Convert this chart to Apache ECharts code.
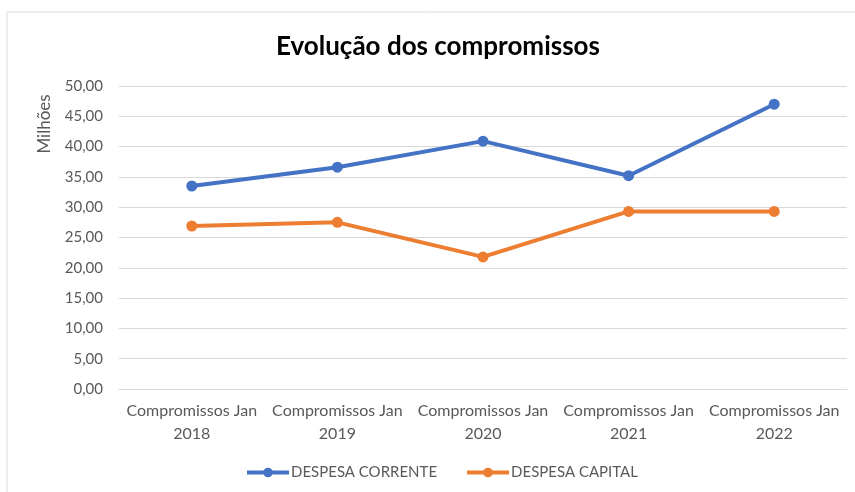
<!DOCTYPE html>
<html lang="pt">
<head>
<meta charset="UTF-8">
<title>Evolução dos compromissos</title>
<script src="https://cdn.jsdelivr.net/npm/echarts@6/dist/echarts.min.js"></script>
<style>
  html, body { margin: 0; padding: 0; background: #fff; }
</style>
</head>
<body>
<div id="main" style="width:855px;height:492px;"></div>
<script type="text/javascript">
// data (milhões)
const categories = [
  'Compromissos Jan\n2018',
  'Compromissos Jan\n2019',
  'Compromissos Jan\n2020',
  'Compromissos Jan\n2021',
  'Compromissos Jan\n2022'
];
const despesaCorrente = [33.5, 36.6, 40.9, 35.2, 47.0];
const despesaCapital = [26.9, 27.5, 21.8, 29.3, 29.3];

const font = 'Lato, "Open Sans", sans-serif';
const textGrey = '#595959';

let myChart = echarts.init(document.getElementById('main'));

let options = {
  backgroundColor: '#fff',
  textStyle: { fontFamily: font },
  title: {
    text: 'Evolução dos compromissos',
    left: 276,
    top: 34,
    padding: 0,
    textStyle: { fontFamily: font, fontSize: 26, fontWeight: 'bold', color: '#000' }
  },
  graphic: [
    {
      type: 'rect',
      shape: { x: 7, y: 12, width: 900, height: 600 },
      style: { fill: 'none', stroke: '#d9d9d9', lineWidth: 1 },
      silent: true
    },
    {
      // axis title "Milhões"
      type: 'text',
      x: 45,
      y: 124,
      rotation: Math.PI / 2,
      style: {
        text: 'Milhões',
        fill: textGrey,
        font: '17px ' + font,
        textAlign: 'center',
        textVerticalAlign: 'middle'
      },
      silent: true
    }
  ],
  legend: {
    bottom: 7,
    left: 240,
    padding: 5,
    itemWidth: 42,
    itemHeight: 12,
    itemGap: 28,
    lineStyle: { width: 4 },
    textStyle: { fontFamily: font, fontSize: 15, color: textGrey, padding: [0, 0, 0, -3] },
    data: ['DESPESA CORRENTE', 'DESPESA CAPITAL']
  },
  grid: { left: 119, right: 8, top: 86, bottom: 103 },
  xAxis: {
    type: 'category',
    data: categories,
    boundaryGap: true,
    axisLine: { lineStyle: { color: '#d9d9d9' } },
    axisTick: { show: false },
    axisLabel: { color: textGrey, fontSize: 16, lineHeight: 23, margin: 10, interval: 0 }
  },
  yAxis: {
    type: 'value',
    min: 0,
    max: 50,
    interval: 5,
    axisLine: { show: false },
    axisTick: { show: false },
    axisLabel: {
      color: textGrey,
      fontSize: 15,
      margin: 16,
      formatter: v => v.toFixed(2).replace('.', ',')
    },
    splitLine: { lineStyle: { color: '#d9d9d9', width: 1 } }
  },
  series: [
    {
      name: 'DESPESA CORRENTE',
      type: 'line',
      data: despesaCorrente,
      color: '#4472C4',
      symbol: 'circle',
      symbolSize: 11,
      lineStyle: { width: 4 }
    },
    {
      name: 'DESPESA CAPITAL',
      type: 'line',
      data: despesaCapital,
      color: '#ED7D31',
      symbol: 'circle',
      symbolSize: 11,
      lineStyle: { width: 4 }
    }
  ]
};

myChart.setOption(options);
</script>
</body>
</html>
